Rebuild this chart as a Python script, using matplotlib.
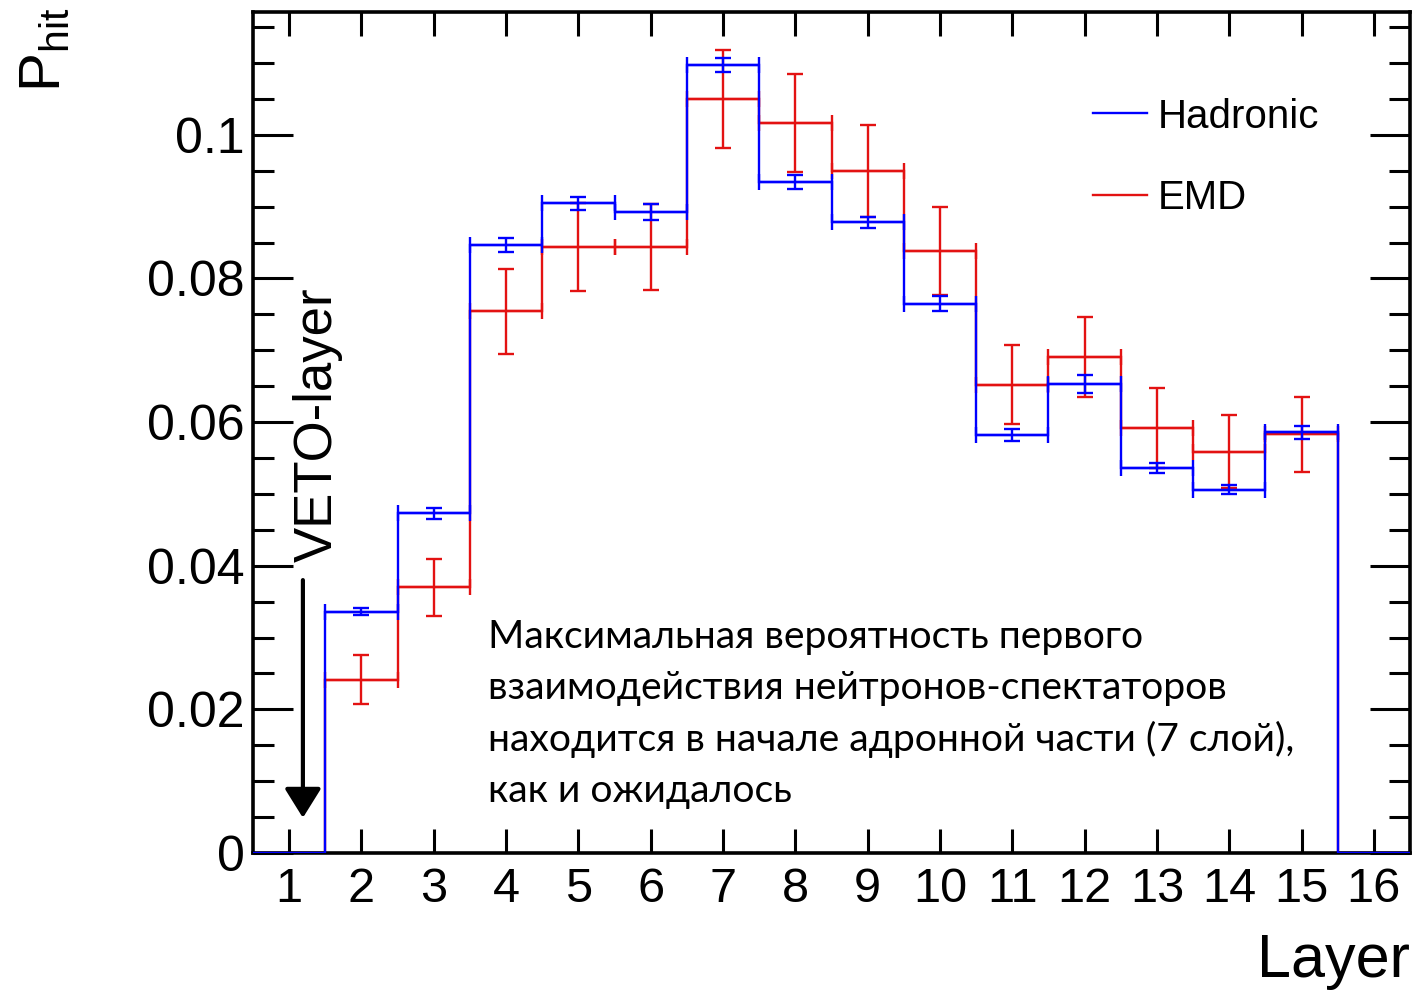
import numpy as np
import matplotlib
matplotlib.use("Agg")
import matplotlib.pyplot as plt
from matplotlib.ticker import MultipleLocator, FuncFormatter

plt.rcParams['font.family'] = ['Liberation Sans', 'DejaVu Sans']
plt.rcParams['mathtext.fontset'] = 'custom'
plt.rcParams['mathtext.rm'] = 'Liberation Sans'
plt.rcParams['mathtext.it'] = 'Liberation Sans'

# values, one bin per layer
layers = np.arange(1, 17)
hadronic = [0, 0.0336, 0.0473, 0.0847, 0.0905, 0.0893, 0.1097, 0.0934,
            0.0878, 0.0765, 0.0582, 0.0653, 0.0536, 0.0506, 0.0586, 0]
hadronic_err = [0, 0.0005, 0.0008, 0.0010, 0.0009, 0.0011, 0.0010, 0.0010,
                0.0008, 0.0010, 0.0009, 0.0012, 0.0007, 0.0006, 0.0009, 0]
emd = [0, 0.0241, 0.0370, 0.0754, 0.0844, 0.0844, 0.1050, 0.1016,
       0.0950, 0.0838, 0.0652, 0.0691, 0.0592, 0.0559, 0.0583, 0]
emd_err = [0, 0.0034, 0.0040, 0.0059, 0.0061, 0.0060, 0.0068, 0.0068,
           0.0064, 0.0061, 0.0055, 0.0056, 0.0056, 0.0051, 0.0052, 0]

note = ("Максимальная вероятность первого\n"
        "взаимодействия нейтронов-спектаторов\n"
        "находится в начале адронной части (7 слой),\n"
        "как и ожидалось")

blue = '#0000ff'
red = '#e31212'

fig = plt.figure(figsize=(14.16, 9.9), dpi=100)
ax = fig.add_axes([253/1416, 1-853/990, (1410-253)/1416, (853-12)/990])

edges = np.arange(0.5, 17.0, 1.0)

def draw_hist(vals, errs, color, z):
    vals = np.array(vals)
    errs = np.array(errs)
    ax.stairs(vals, edges, color=color, lw=1.7, zorder=z)
    m = vals > 0
    ax.errorbar(layers[m], vals[m], yerr=errs[m], xerr=0.5, fmt='none',
                ecolor=color, elinewidth=1.7, capsize=6, capthick=1.7, zorder=z)

draw_hist(emd, emd_err, red, 2)
draw_hist(hadronic, hadronic_err, blue, 3)

ax.set_xlim(0.5, 16.5)
ax.set_ylim(0, 0.1171)

ax.xaxis.set_major_locator(MultipleLocator(1))
ax.yaxis.set_major_locator(MultipleLocator(0.02))
ax.yaxis.set_minor_locator(MultipleLocator(0.005))
ax.yaxis.set_major_formatter(FuncFormatter(lambda v, p: f"{v:g}"))

ax.tick_params(axis='both', which='both', direction='in', top=True, right=True,
               width=2.2, colors='black')
ax.tick_params(axis='x', which='major', length=17, labelsize=35, pad=10)
ax.tick_params(axis='y', which='major', length=29, labelsize=36, pad=6)
ax.tick_params(axis='y', which='minor', length=15)
for s in ax.spines.values():
    s.set_linewidth(2.6)

ax.text(1.0, -0.095, "Layer", transform=ax.transAxes, ha='right', va='top',
        fontsize=44)
fig.text(45/1416, 1-8/990, r"P$_{\mathrm{hit}}$", rotation=90, ha='center',
         va='top', fontsize=42)

# VETO-layer marker
ax.annotate('', xy=(1.19, 0.0049), xytext=(1.19, 0.038),
            arrowprops=dict(arrowstyle='-|>,head_length=0.45,head_width=0.28',
                            mutation_scale=40, lw=3, color='black',
                            shrinkA=0, shrinkB=0))
ax.text(1.40, 0.0405, "VETO-layer", rotation=90, rotation_mode='anchor',
        ha='left', va='center', fontsize=38)

ax.text((488-253)/1157, (853-619)/841, note, transform=ax.transAxes,
        ha='left', va='top', fontsize=28.2, family=['Lato', 'DejaVu Sans'],
        linespacing=1.51)

handles = [plt.Line2D([], [], color=blue, lw=1.7),
           plt.Line2D([], [], color=red, lw=1.7)]
leg = ax.legend(handles, ['Hadronic', 'EMD'], loc='upper left',
                bbox_to_anchor=(0.688, 0.951), fontsize=29, frameon=True,
                handlelength=1.34, handletextpad=0.25, labelspacing=1.07,
                borderpad=0.6, fancybox=False)
leg.get_frame().set_linewidth(0)
leg.get_frame().set_facecolor('white')

fig.savefig("out.png", dpi=100)
